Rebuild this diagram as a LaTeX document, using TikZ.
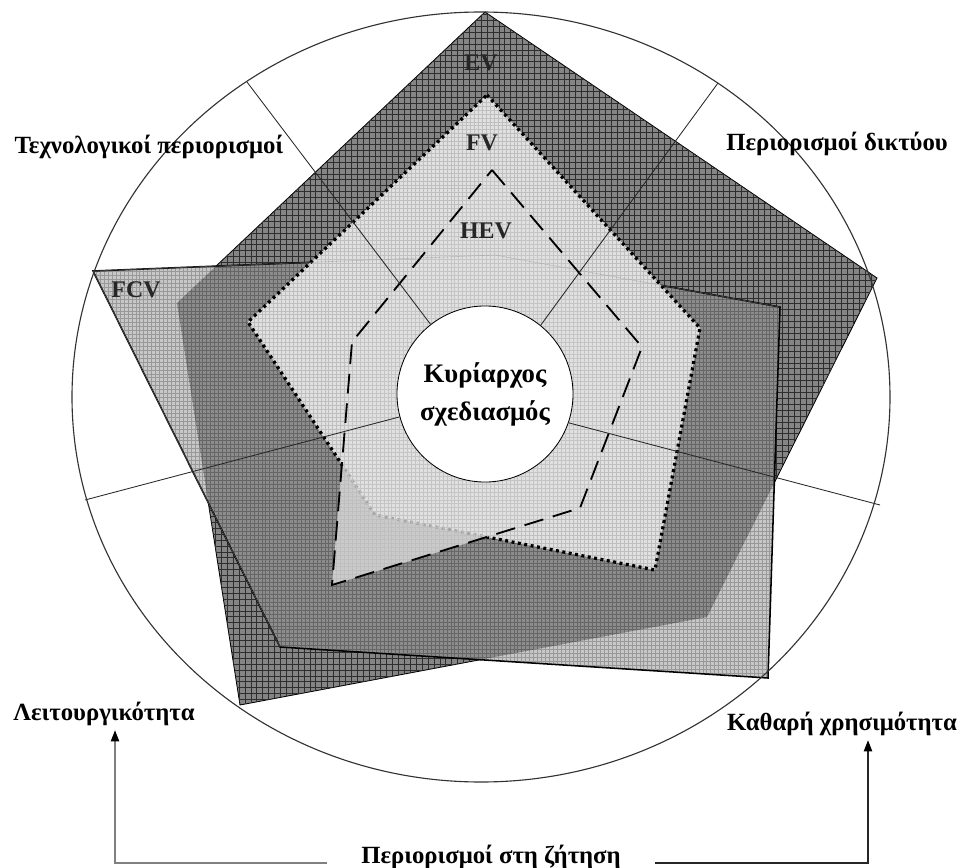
\documentclass[tikz,border=0pt]{standalone}
\usepackage{fontspec}
\setmainfont{Liberation Serif}
\usepackage{xcolor}
\usepackage{tikz}
\usetikzlibrary{patterns,arrows.meta}

\pgfdeclarepatternformonly{coarsegrid}{\pgfqpoint{-0.5pt}{-0.5pt}}{\pgfqpoint{4.7pt}{4.7pt}}{\pgfqpoint{4.2pt}{4.2pt}}{%
  \pgfsetlinewidth{0.7pt}%
  \pgfpathmoveto{\pgfqpoint{0pt}{2.1pt}}\pgfpathlineto{\pgfqpoint{4.2pt}{2.1pt}}%
  \pgfpathmoveto{\pgfqpoint{2.1pt}{0pt}}\pgfpathlineto{\pgfqpoint{2.1pt}{4.2pt}}%
  \pgfusepath{stroke}}
\pgfdeclarepatternformonly{finegrid}{\pgfqpoint{-0.5pt}{-0.5pt}}{\pgfqpoint{3.3pt}{3.3pt}}{\pgfqpoint{2.8pt}{2.8pt}}{%
  \pgfsetlinewidth{0.45pt}%
  \pgfpathmoveto{\pgfqpoint{0pt}{1.4pt}}\pgfpathlineto{\pgfqpoint{2.8pt}{1.4pt}}%
  \pgfpathmoveto{\pgfqpoint{1.4pt}{0pt}}\pgfpathlineto{\pgfqpoint{1.4pt}{2.8pt}}%
  \pgfusepath{stroke}}

\begin{document}
\begin{tikzpicture}[x=0.025cm, y=-0.025cm]
      \tikzstyle{axistext} = [font=\fontsize{17.6}{21}\selectfont\bfseries, anchor=base]
      \tikzstyle{vehicle} = [font=\fontsize{17}{20}\selectfont\bfseries, text=black!85, anchor=base]
      \tikzstyle{evshade} = [fill=black!48, postaction={pattern=coarsegrid, pattern color=black!82}]
      \tikzstyle{overlap} = [fill=black!45, postaction={pattern=finegrid, pattern color=black!60}]
      \tikzstyle{fcvshade} = [fill=black!22, postaction={pattern=finegrid, pattern color=black!40}]
      \tikzstyle{fvshade} = [fill=black!12, postaction={pattern=finegrid, pattern color=black!25}]
      \tikzstyle{spoke} = [line width=0.6pt, black!85]
      \tikzstyle{arrow} = [thick, -{Triangle[length=8pt, width=6pt, color=black]}]

      \useasboundingbox (0,0) rectangle (962,868);

      \coordinate (ev1) at (485,12);
      \coordinate (ev2) at (877,278);
      \coordinate (ev3) at (707,617);
      \coordinate (ev4) at (240,705);
      \coordinate (ev5) at (177,303);

      \coordinate (fcv1) at (93,271);
      \coordinate (fcv2) at (495,255);
      \coordinate (fcv3) at (780,307);
      \coordinate (fcv4) at (768,678);
      \coordinate (fcv5) at (280,647);

      \coordinate (fv1) at (487,95);
      \coordinate (fv2) at (700,328);
      \coordinate (fv3) at (655,570);
      \coordinate (fv4) at (375,515);
      \coordinate (fv5) at (248,322);

      \coordinate (hev1) at (492,170);
      \coordinate (hev2) at (642,347);
      \coordinate (hev3) at (580,508);
      \coordinate (hev4) at (332,585);
      \coordinate (hev5) at (352,342);

      \draw [evshade, line width=0.6pt] (ev1) -- (ev2) -- (ev3) -- (ev4) -- (ev5) -- cycle;
      \fill [fcvshade] (fcv1) -- (fcv2) -- (fcv3) -- (fcv4) -- (fcv5) -- cycle;
      \begin{scope}
        \clip (fcv1) -- (fcv2) -- (fcv3) -- (fcv4) -- (fcv5) -- cycle;
        \fill [overlap] (ev1) -- (ev2) -- (ev3) -- (ev4) -- (ev5) -- cycle;
      \end{scope}
      \draw [line width=1.1pt] (fcv1) -- (fcv2) -- (fcv3) -- (fcv4) -- (fcv5) -- cycle;

      \fill [fvshade] (fv1) -- (fv2) -- (fv3) -- (fv4) -- (fv5) -- cycle;
      \draw [line width=2.3pt, dash pattern=on 2.1pt off 2.5pt] (fv1) -- (fv2) -- (fv3) -- (fv4) -- (fv5) -- cycle;
      \fill [fvshade, opacity=0.75] (hev1) -- (hev2) -- (hev3) -- (hev4) -- (hev5) -- cycle;
      \draw [line width=1.3pt, dash pattern=on 14pt off 7pt] (hev1) -- (hev2) -- (hev3) -- (hev4) -- (hev5) -- cycle;
      \draw [black!40, opacity=0.5] (fcv5) -- (fcv1) -- (fcv2) -- (fcv3);

      \node (core) [circle, draw, line width=0.6pt, fill=white, minimum size=4.4cm, align=center,
        font=\fontsize{19}{27}\selectfont\bfseries] at (485,394) {Κυρίαρχος\\σχεδιασμός};

      \coordinate (rim1) at (247,82);
      \coordinate (rim2) at (718,83);
      \coordinate (rim3) at (85,500);
      \coordinate (rim4) at (880,505);
      \draw [spoke] (core.128) -- (rim1);
      \draw [spoke] (core.51) -- (rim2);
      \draw [spoke] (core.195) -- (rim3);
      \draw [spoke] (core.341) -- (rim4);

      \draw [line width=0.8pt, black!80] (481,397) ellipse [x radius=409, y radius=385];

      \node (ev) [vehicle] at (481,70) {EV};
      \node (fv) [vehicle] at (482,150) {FV};
      \node (hev) [vehicle] at (486,238) {HEV};
      \node (fcv) [vehicle] at (136,297) {FCV};

      \node (tech) [axistext] at (149,153) {Τεχνολογικοί περιορισμοί};
      \node (network) [axistext] at (837,150) {Περιορισμοί δικτύου};
      \node (func) [axistext] at (104,720) {Λειτουργικότητα};
      \node (utility) [axistext] at (842,730) {Καθαρή χρησιμότητα};
      \node (demand) [axistext, inner xsep=0.85cm] at (491,863) {Περιορισμοί στη ζήτηση};

      \draw [arrow, black!50] (demand.base west) -| ([xshift=0.275cm]func.south);
      \draw [arrow, black!85] (demand.base east) -| ([xshift=0.65cm]utility.south);
    \end{tikzpicture}
\end{document}
